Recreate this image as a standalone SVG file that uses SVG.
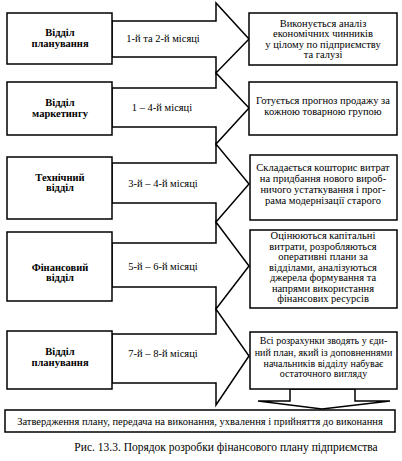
<svg xmlns="http://www.w3.org/2000/svg" width="402" height="461" viewBox="0 0 402 461" font-family="'Liberation Serif', 'Times New Roman', 'DejaVu Serif', serif">
<style>
.box{fill:#fff;stroke:#000;stroke-width:1.5}
.arr{fill:#fff;stroke:#000;stroke-width:1.5;stroke-linejoin:miter}
text{font-family:'Liberation Serif','Times New Roman','DejaVu Serif',serif;fill:#000;text-anchor:middle;font-size:10.5px}
.b{font-weight:bold}
.s{font-size:10px}
.cap{font-size:11.5px}
</style>
<rect width="402" height="461" fill="#fff"/>
<g id="connectors">
<polygon class="arr" points="112,21 216,21 216,3 249,39 216,73 216,57 112,57"/>
<polygon class="arr" points="112,88 216,88 216,73 249,108 216,144 216,127 112,127"/>
<polygon class="arr" points="112,163 216,163 216,144 249,184 216,222 216,203 112,203"/>
<polygon class="arr" points="112,243 216,243 216,222 249,266 216,309 216,287 112,287"/>
<polygon class="arr" points="112,334 216,334 216,309 249,356 216,405 216,383 112,383"/>
<polygon class="arr" points="290,389 290,401 258,401 322,409 390,401 355,401 355,389"/>
<text x="163" y="42">1-й та 2-й місяці</text>
<text x="162" y="111">1 – 4-й місяці</text>
<text x="163" y="187">3-й – 4-й місяці</text>
<text x="163" y="270">5-й – 6-й місяці</text>
<text x="163" y="357">7-й – 8-й місяці</text>
</g>
<g id="left1"><rect class="box" x="7" y="13" width="105" height="51"/><text class="b" x="60" y="36">Відділ</text><text class="b" x="60" y="47">планування</text></g>
<g id="left2"><rect class="box" x="7" y="82" width="105" height="53"/><text class="b" x="60" y="106">Відділ</text><text class="b" x="60" y="117">маркетингу</text></g>
<g id="left3"><rect class="box" x="7" y="157" width="105" height="62"/><text class="b" x="60" y="181">Технічний</text><text class="b" x="60" y="191">відділ</text></g>
<g id="left4"><rect class="box" x="7" y="232" width="105" height="69"/><text class="b" x="60" y="271">Фінансовий</text><text class="b" x="60" y="281">відділ</text></g>
<g id="left5"><rect class="box" x="7" y="331" width="105" height="58"/><text class="b" x="60" y="355">Відділ</text><text class="b" x="60" y="366">планування</text></g>
<g id="right1"><rect class="box" x="249" y="13" width="148" height="52"/><text x="323" y="27">Виконується аналіз</text><text x="323" y="37">економічних чинників</text><text x="323" y="47.5">у цілому по підприємству</text><text x="323" y="57.5">та галузі</text></g>
<g id="right2"><rect class="box" x="249" y="82" width="148" height="53"/><text x="323" y="104">Готується прогноз продажу за</text><text x="323" y="115">кожною товарною групою</text></g>
<g id="right3"><rect class="box" x="250" y="155" width="147" height="65"/><text x="323" y="171">Складається кошторис витрат</text><text x="323" y="181.5">на придбання нового вироб-</text><text x="323" y="192.5">ничого устаткування і прог-</text><text x="323" y="203.5">рама модернізації старого</text></g>
<g id="right4"><rect class="box" x="250" y="230" width="147" height="78"/><text x="323" y="239">Оцінюються капітальні</text><text x="323" y="249.5">витрати, розробляються</text><text x="323" y="260">оперативні плани за</text><text x="323" y="270.5">відділами, аналізуються</text><text x="323" y="281">джерела формування та</text><text x="323" y="291.5">напрями використання</text><text x="323" y="302">фінансових ресурсів</text></g>
<g id="right5"><rect class="box" x="250" y="332" width="147" height="57"/><text class="s" x="323.5" y="344">Всі розрахунки зводять у єди-</text><text class="s" x="323.5" y="355.5">ний план, який із доповненнями</text><text class="s" x="323.5" y="366.5">начальників відділу набуває</text><text class="s" x="323.5" y="377">остаточного вигляду</text></g>
<g id="bottom"><rect class="box" x="5" y="410" width="390" height="22"/><text x="200" y="424.5">Затвердження плану, передача на виконання, ухвалення і прийняття до виконання</text></g>
<text class="cap" x="226" y="451">Рис. 13.3. Порядок розробки фінансового плану підприємства</text>
</svg>
